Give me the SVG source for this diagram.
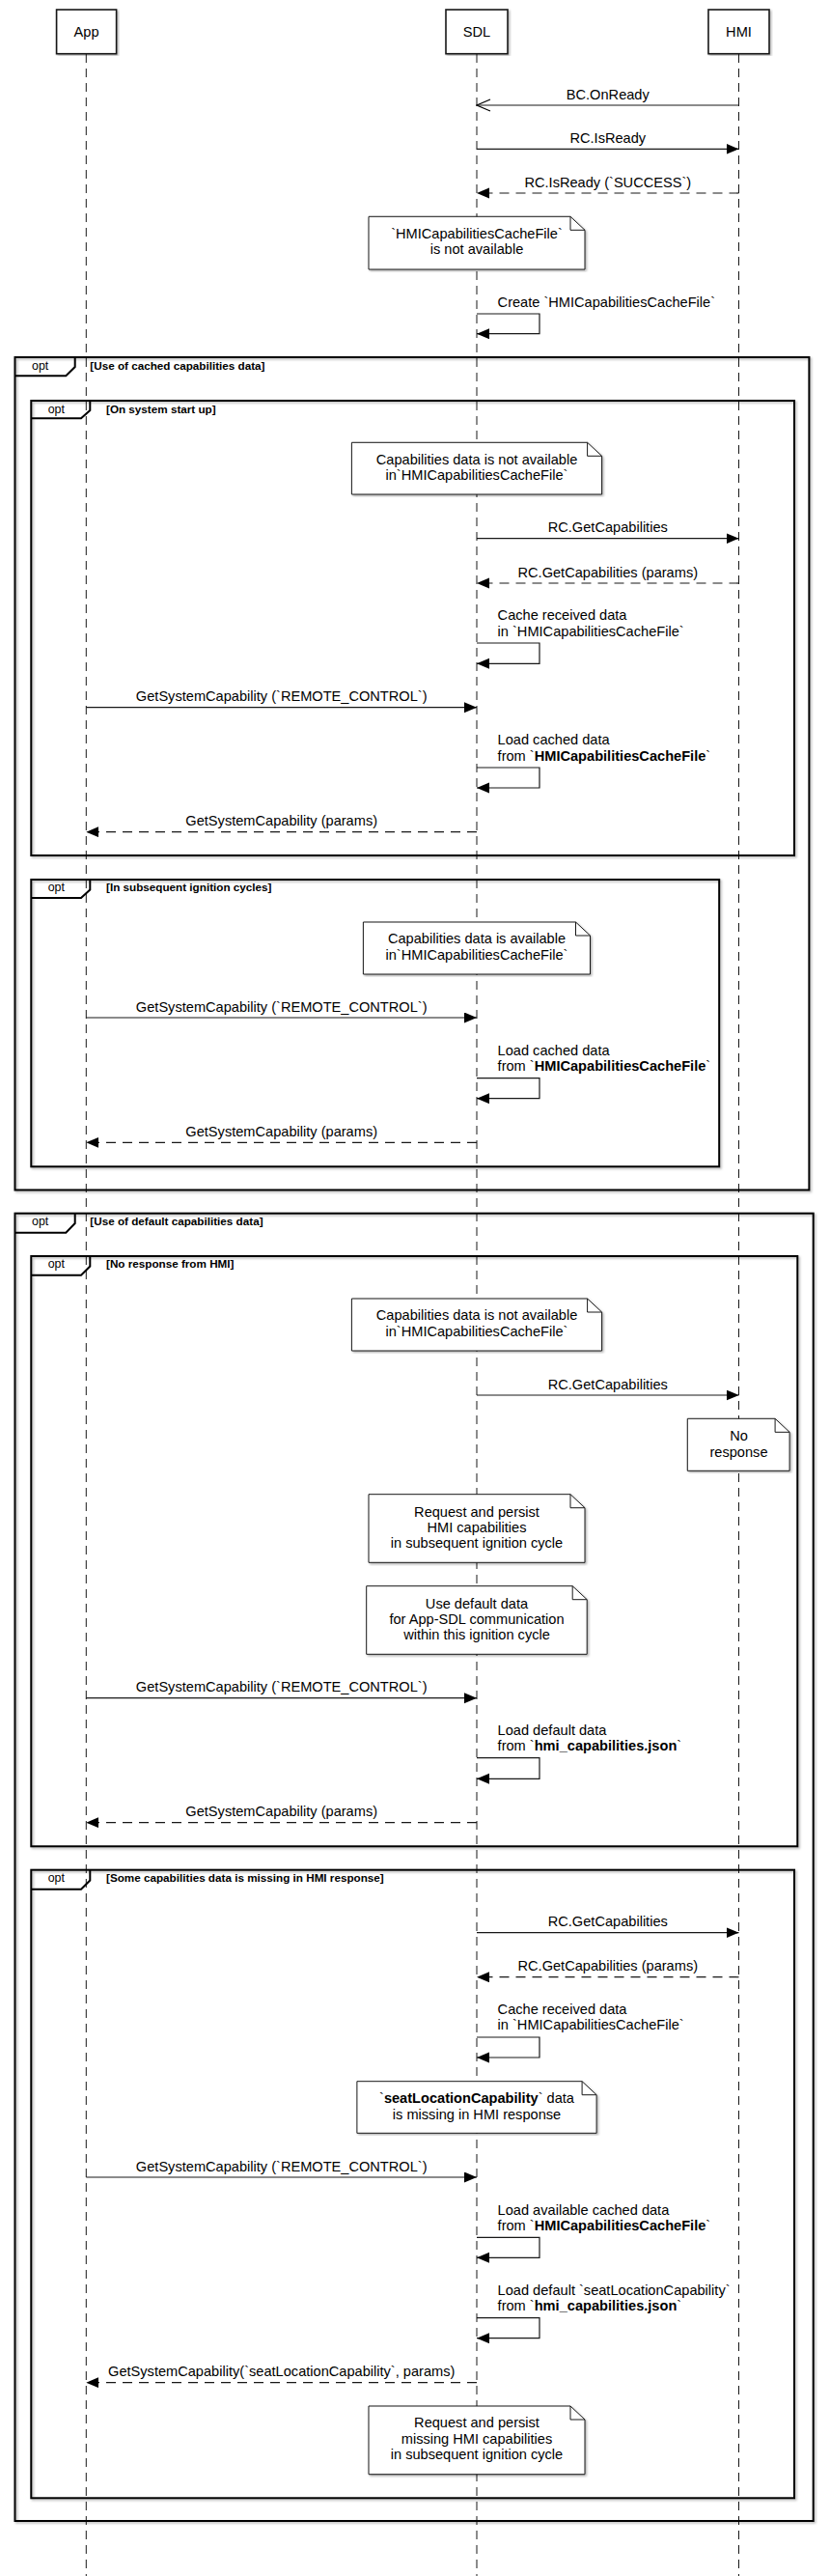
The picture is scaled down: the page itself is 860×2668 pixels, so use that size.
<svg xmlns="http://www.w3.org/2000/svg" width="860" height="2668" viewBox="0 0 860 2668">
<style>
text{font-family:"Liberation Sans",Arial,sans-serif;font-size:14.6px;fill:#000}
.c{text-anchor:middle}
.g{font-size:11.7px;font-weight:bold}
.o{font-size:12.4px;text-anchor:middle}
.b{font-weight:bold}
.life{stroke:#181818;stroke-width:1;stroke-dasharray:9,6;fill:none}
.ln{stroke:#181818;stroke-width:1.2;fill:none}
.d{stroke-dasharray:10,7}
.part{fill:#fff;stroke:#181818;stroke-width:1.6}
.frame{fill:none;stroke:#000;stroke-width:2}
.note{fill:#fff;stroke:#181818;stroke-width:1}
.fold{fill:none;stroke:#181818;stroke-width:1}
</style>
<defs>
<marker id="fa" markerUnits="userSpaceOnUse" markerWidth="14" markerHeight="12" refX="13" refY="5.5" orient="auto"><path d="M0,0 L13,5.5 L0,11 Z" fill="#000"/></marker>
<marker id="oa" markerUnits="userSpaceOnUse" markerWidth="16" markerHeight="14" refX="14.5" refY="6.5" orient="auto"><path d="M0.5,0.5 L14.5,6.5 L0.5,12.5" fill="none" stroke="#000" stroke-width="1.2"/></marker>
<filter id="sh" x="-5%" y="-5%" width="110%" height="110%"><feDropShadow dx="1.5" dy="1.5" stdDeviation="1" flood-color="#000" flood-opacity="0.3"/></filter>
</defs>
<rect width="860" height="2668" fill="#fff"/>
<g id="lifelines">
<line class="life" x1="89.3" y1="56" x2="89.3" y2="2668"/>
<line class="life" x1="494" y1="56" x2="494" y2="2668"/>
<line class="life" x1="765.5" y1="56" x2="765.5" y2="2668"/>
</g>
<g id="App"><rect class="part" x="58.6" y="10" width="62" height="45.7" filter="url(#sh)"/><text class="c" x="89.6" y="38">App</text></g>
<g id="SDL"><rect class="part" x="462" y="10" width="64" height="45.7" filter="url(#sh)"/><text class="c" x="494" y="38">SDL</text></g>
<g id="HMI"><rect class="part" x="734" y="10" width="63" height="45.7" filter="url(#sh)"/><text class="c" x="765.5" y="38">HMI</text></g>

<g id="frame-cached">
<rect class="frame" x="15.5" y="370" width="822.9" height="862.5" filter="url(#sh)"/>
<path class="frame" d="M15.5,389.3 H68.3 L77.7,380 V370"/>
<text class="o" x="41.7" y="383">opt</text>
<text class="g" x="93.3" y="383">[Use of cached capabilities data]</text>
</g>
<g id="frame-startup">
<rect class="frame" x="32.3" y="415" width="790.7" height="471" filter="url(#sh)"/>
<path class="frame" d="M32.3,433.3 H84 L93.3,425 V415"/>
<text class="o" x="58.3" y="427.5">opt</text>
<text class="g" x="110" y="427.5">[On system start up]</text>
</g>
<g id="frame-subsequent">
<rect class="frame" x="32.3" y="911" width="712.9" height="297.3" filter="url(#sh)"/>
<path class="frame" d="M32.3,930 H84 L93.3,921.5 V911"/>
<text class="o" x="58.3" y="923.3">opt</text>
<text class="g" x="110" y="923.3">[In subsequent ignition cycles]</text>
</g>
<g id="frame-default">
<rect class="frame" x="15.5" y="1256.7" width="827.2" height="1354.3" filter="url(#sh)"/>
<path class="frame" d="M15.5,1276.7 H68.3 L77.7,1267 V1256.7"/>
<text class="o" x="41.7" y="1269.3">opt</text>
<text class="g" x="93.3" y="1269.3">[Use of default capabilities data]</text>
</g>
<g id="frame-noresponse">
<rect class="frame" x="32.3" y="1301" width="794" height="611.3" filter="url(#sh)"/>
<path class="frame" d="M32.3,1320.7 H84 L93.3,1311.5 V1301"/>
<text class="o" x="58.3" y="1313.3">opt</text>
<text class="g" x="110" y="1313.3">[No response from HMI]</text>
</g>
<g id="frame-missing">
<rect class="frame" x="32.3" y="1936.7" width="790.7" height="650.6" filter="url(#sh)"/>
<path class="frame" d="M32.3,1956.7 H84 L93.3,1947.5 V1936.7"/>
<text class="o" x="58.3" y="1949.3">opt</text>
<text class="g" x="110" y="1949.3">[Some capabilities data is missing in HMI response]</text>
</g>

<g id="note1"><path class="note" d="M382,224.3 H591 L606,238.3 V279 H382 Z" filter="url(#sh)"/><path class="fold" d="M591,224.3 V238.3 H606"/>
<text class="c" x="494" y="247">`HMICapabilitiesCacheFile`</text><text class="c" x="494" y="263.3">is not available</text></g>
<g id="note2"><path class="note" d="M364.4,458.3 H608.6 L623.6,472.3 V512 H364.4 Z" filter="url(#sh)"/><path class="fold" d="M608.6,458.3 V472.3 H623.6"/>
<text class="c" x="494" y="480.7">Capabilities data is not available</text><text class="c" x="494" y="497">in`HMICapabilitiesCacheFile`</text></g>
<g id="note3"><path class="note" d="M376.4,955 H596.5 L611.5,969 V1009 H376.4 Z" filter="url(#sh)"/><path class="fold" d="M596.5,955 V969 H611.5"/>
<text class="c" x="494" y="977.3">Capabilities data is available</text><text class="c" x="494" y="993.6">in`HMICapabilitiesCacheFile`</text></g>
<g id="note4"><path class="note" d="M364.4,1345 H608.6 L623.6,1359 V1399 H364.4 Z" filter="url(#sh)"/><path class="fold" d="M608.6,1345 V1359 H623.6"/>
<text class="c" x="494" y="1367.3">Capabilities data is not available</text><text class="c" x="494" y="1383.6">in`HMICapabilitiesCacheFile`</text></g>
<g id="note5"><path class="note" d="M712.3,1469.3 H803.1 L818.1,1483.3 V1523.3 H712.3 Z" filter="url(#sh)"/><path class="fold" d="M803.1,1469.3 V1483.3 H818.1"/>
<text class="c" x="765.5" y="1492.3">No</text><text class="c" x="765.5" y="1508.6">response</text></g>
<g id="note6"><path class="note" d="M382,1547.7 H591 L606,1561.7 V1618.3 H382 Z" filter="url(#sh)"/><path class="fold" d="M591,1547.7 V1561.7 H606"/>
<text class="c" x="494" y="1570.7">Request and persist</text><text class="c" x="494" y="1587">HMI capabilities</text><text class="c" x="494" y="1603.3">in subsequent ignition cycle</text></g>
<g id="note7"><path class="note" d="M379.7,1642.7 H593.2 L608.2,1656.7 V1713.3 H379.7 Z" filter="url(#sh)"/><path class="fold" d="M593.2,1642.7 V1656.7 H608.2"/>
<text class="c" x="494" y="1665.7">Use default data</text><text class="c" x="494" y="1682">for App-SDL communication</text><text class="c" x="494" y="1698.3">within this ignition cycle</text></g>
<g id="note8"><path class="note" d="M369.9,2155.7 H603.1 L618.1,2169.7 V2209.3 H369.9 Z" filter="url(#sh)"/><path class="fold" d="M603.1,2155.7 V2169.7 H618.1"/>
<text class="c" x="494" y="2178.3">`<tspan class="b">seatLocationCapability</tspan>` data</text><text class="c" x="494" y="2194.6">is missing in HMI response</text></g>
<g id="note9"><path class="note" d="M382,2492 H591 L606,2506 V2562.7 H382 Z" filter="url(#sh)"/><path class="fold" d="M591,2492 V2506 H606"/>
<text class="c" x="494" y="2514.3">Request and persist</text><text class="c" x="494" y="2530.6">missing HMI capabilities</text><text class="c" x="494" y="2546.9">in subsequent ignition cycle</text></g>

<g id="connectors">
<line class="ln" x1="765.5" y1="109" x2="494" y2="109" marker-end="url(#oa)"/>
<text class="c" x="629.8" y="102.5">BC.OnReady</text>
<line class="ln" x1="494" y1="154.3" x2="765.5" y2="154.3" marker-end="url(#fa)"/>
<text class="c" x="629.8" y="147.8">RC.IsReady</text>
<line class="ln d" x1="765.5" y1="200" x2="494" y2="200" marker-end="url(#fa)"/>
<text class="c" x="629.8" y="193.5">RC.IsReady (`SUCCESS`)</text>
<path class="ln" d="M494,325 H559 V345.7 H494" marker-end="url(#fa)"/>
<text x="515.6" y="317.5">Create `HMICapabilitiesCacheFile`</text>

<line class="ln" x1="494" y1="557.7" x2="765.5" y2="557.7" marker-end="url(#fa)"/>
<text class="c" x="629.8" y="551.2">RC.GetCapabilities</text>
<line class="ln d" x1="765.5" y1="604" x2="494" y2="604" marker-end="url(#fa)"/>
<text class="c" x="629.8" y="597.5">RC.GetCapabilities (params)</text>
<path class="ln" d="M494,666 H559 V687.3 H494" marker-end="url(#fa)"/>
<text x="515.6" y="642.2">Cache received data</text><text x="515.6" y="658.5">in `HMICapabilitiesCacheFile`</text>
<line class="ln" x1="89.3" y1="732.7" x2="494" y2="732.7" marker-end="url(#fa)"/>
<text class="c" x="291.7" y="726.2">GetSystemCapability (`REMOTE_CONTROL`)</text>
<path class="ln" d="M494,795 H559 V816 H494" marker-end="url(#fa)"/>
<text x="515.6" y="771">Load cached data</text><text x="515.6" y="787.5">from `<tspan class="b">HMICapabilitiesCacheFile</tspan>`</text>
<line class="ln d" x1="494" y1="861.7" x2="89.3" y2="861.7" marker-end="url(#fa)"/>
<text class="c" x="291.7" y="855.2">GetSystemCapability (params)</text>

<line class="ln" x1="89.3" y1="1054" x2="494" y2="1054" marker-end="url(#fa)"/>
<text class="c" x="291.7" y="1047.5">GetSystemCapability (`REMOTE_CONTROL`)</text>
<path class="ln" d="M494,1116.7 H559 V1137.7 H494" marker-end="url(#fa)"/>
<text x="515.6" y="1093">Load cached data</text><text x="515.6" y="1109.3">from `<tspan class="b">HMICapabilitiesCacheFile</tspan>`</text>
<line class="ln d" x1="494" y1="1183.3" x2="89.3" y2="1183.3" marker-end="url(#fa)"/>
<text class="c" x="291.7" y="1176.8">GetSystemCapability (params)</text>

<line class="ln" x1="494" y1="1445" x2="765.5" y2="1445" marker-end="url(#fa)"/>
<text class="c" x="629.8" y="1438.5">RC.GetCapabilities</text>
<line class="ln" x1="89.3" y1="1758.7" x2="494" y2="1758.7" marker-end="url(#fa)"/>
<text class="c" x="291.7" y="1752.2">GetSystemCapability (`REMOTE_CONTROL`)</text>
<path class="ln" d="M494,1820.7 H559 V1842.3 H494" marker-end="url(#fa)"/>
<text x="515.6" y="1797">Load default data</text><text x="515.6" y="1813.3">from `<tspan class="b">hmi_capabilities.json</tspan>`</text>
<line class="ln d" x1="494" y1="1887.7" x2="89.3" y2="1887.7" marker-end="url(#fa)"/>
<text class="c" x="291.7" y="1881.2">GetSystemCapability (params)</text>

<line class="ln" x1="494" y1="2001.7" x2="765.5" y2="2001.7" marker-end="url(#fa)"/>
<text class="c" x="629.8" y="1995.2">RC.GetCapabilities</text>
<line class="ln d" x1="765.5" y1="2047.7" x2="494" y2="2047.7" marker-end="url(#fa)"/>
<text class="c" x="629.8" y="2041.2">RC.GetCapabilities (params)</text>
<path class="ln" d="M494,2110 H559 V2131 H494" marker-end="url(#fa)"/>
<text x="515.6" y="2086">Cache received data</text><text x="515.6" y="2102.3">in `HMICapabilitiesCacheFile`</text>
<line class="ln" x1="89.3" y1="2255" x2="494" y2="2255" marker-end="url(#fa)"/>
<text class="c" x="291.7" y="2248.5">GetSystemCapability (`REMOTE_CONTROL`)</text>
<path class="ln" d="M494,2317.3 H559 V2338.3 H494" marker-end="url(#fa)"/>
<text x="515.6" y="2293.5">Load available cached data</text><text x="515.6" y="2309.8">from `<tspan class="b">HMICapabilitiesCacheFile</tspan>`</text>
<path class="ln" d="M494,2400.7 H559 V2421.7 H494" marker-end="url(#fa)"/>
<text x="515.6" y="2376.9">Load default `seatLocationCapability`</text><text x="515.6" y="2393.2">from `<tspan class="b">hmi_capabilities.json</tspan>`</text>
<line class="ln d" x1="494" y1="2467.7" x2="89.3" y2="2467.7" marker-end="url(#fa)"/>
<text class="c" x="291.7" y="2461.2">GetSystemCapability(`seatLocationCapability`, params)</text>
</g>
</svg>
